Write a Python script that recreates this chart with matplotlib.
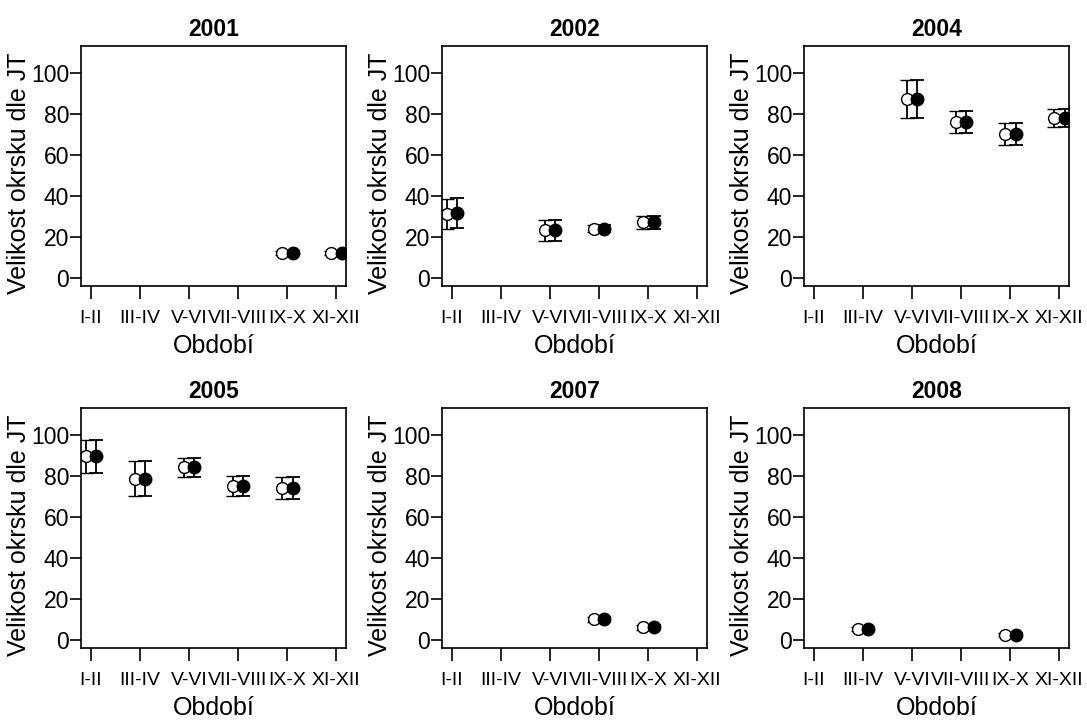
import numpy as np
import matplotlib
matplotlib.use('Agg')
import matplotlib.pyplot as plt

plt.rcParams['font.family'] = ['Liberation Sans', 'DejaVu Sans']

periods = ['I-II', 'III-IV', 'V-VI', 'VII-VIII', 'IX-X', 'XI-XII']
years = ['2001', '2002', '2004', '2005', '2007', '2008']
nan = np.nan

# mean size per period, open (left) and filled (right) markers
open_2001 = [nan, nan, nan, nan, 12.0, 12.0]
fill_2001 = [nan, nan, nan, nan, 12.0, 12.0]
err_2001 = [nan, nan, nan, nan, 1.0, 1.0]

open_2002 = [31.0, nan, 23.2, 24.0, 27.0, nan]
fill_2002 = [31.7, nan, 23.2, 24.0, 27.0, nan]
err_2002 = [7.2, nan, 5.2, 1.5, 3.0, nan]

open_2004 = [nan, nan, 87.2, 76.0, 70.0, 78.0]
fill_2004 = [nan, nan, 87.2, 76.0, 70.0, 78.0]
err_2004 = [nan, nan, 9.4, 5.5, 5.3, 4.5]

open_2005 = [89.5, 78.6, 84.0, 74.8, 74.0, nan]
fill_2005 = [89.5, 78.6, 84.0, 74.8, 74.0, nan]
err_2005 = [8.0, 8.4, 4.4, 4.9, 5.4, nan]

open_2007 = [nan, nan, nan, 9.9, 6.0, nan]
fill_2007 = [nan, nan, nan, 9.9, 6.0, nan]
err_2007 = [nan, nan, nan, 1.0, 1.0, nan]

open_2008 = [nan, 5.1, nan, nan, 2.5, nan]
fill_2008 = [nan, 5.1, nan, nan, 2.5, nan]
err_2008 = [nan, 1.0, nan, nan, 0.8, nan]

opens = [open_2001, open_2002, open_2004, open_2005, open_2007, open_2008]
fills = [fill_2001, fill_2002, fill_2004, fill_2005, fill_2007, fill_2008]
errs = [err_2001, err_2002, err_2004, err_2005, err_2007, err_2008]

fig = plt.figure(figsize=(10.87, 7.22), dpi=100)
W, H = 1087.0, 722.0
lefts = [81, 442, 804]
bottoms = [286, 648]
aw, ah = 265, 240

x = np.arange(len(periods))
for i in range(6):
    r, c = divmod(i, 3)
    ax = fig.add_axes([lefts[c] / W, 1 - bottoms[r] / H, aw / W, ah / H])
    o = np.array(opens[i])
    f = np.array(fills[i])
    e = np.array(errs[i])
    ax.errorbar(x - 0.1, o, yerr=e, fmt='o', mfc='white', mec='black', ms=8.5,
                mew=1.0, ecolor='black', elinewidth=1.3, capsize=5, capthick=1.3)
    ax.errorbar(x + 0.11, f, yerr=e, fmt='o', mfc='black', mec='black', ms=9,
                ecolor='black', elinewidth=1.3, capsize=5, capthick=1.3)
    ax.set_xlim(-0.2, 5.2)
    ax.set_ylim(-4, 113)
    ax.set_xticks(x)
    ax.set_xticklabels(periods, fontsize=14)
    ax.set_yticks([0, 20, 40, 60, 80, 100])
    ax.tick_params(axis='y', labelsize=16.5, length=8, width=1.2, pad=0.5)
    ax.tick_params(axis='x', length=9, width=1.2, pad=8)
    for s in ax.spines.values():
        s.set_linewidth(1.2)
    ax.set_title(years[i], fontsize=16.5, fontweight='bold', pad=7)
    ax.set_xlabel('Období', fontsize=18)
    ax.set_ylabel('Velikost okrsku dle JT', fontsize=18)
    ax.xaxis.set_label_coords(0.5, -0.2)
    ax.yaxis.set_label_coords(-0.19, 0.47)

fig.savefig('out.png', dpi=100)
